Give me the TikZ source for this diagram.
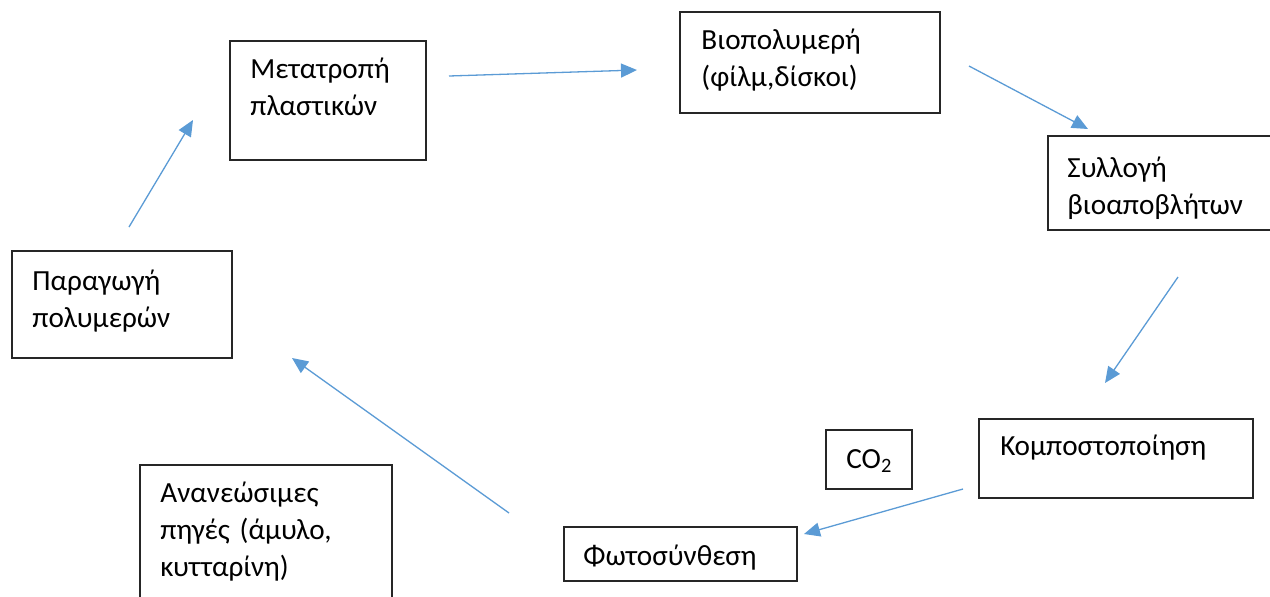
\documentclass[tikz,border=0pt]{standalone}
\usepackage{fontspec}
\setmainfont{Carlito}
\usetikzlibrary{arrows.meta,positioning}
\definecolor{flowblue}{HTML}{5B9BD5}

\begin{document}
\begin{tikzpicture}[x=0.5pt,y=-0.5pt, box/.style={rectangle,draw=black!85,line width=0.75pt,inner sep=0,anchor=north west}, txt/.style={anchor=base west,inner sep=0,text width=130pt,align=left,font=\fontsize{14.6}{18.5}\selectfont}, flow/.style={draw=flowblue,line width=0.65pt,-{Triangle[length=8pt,width=7pt]}}]
  \useasboundingbox (0,0) rectangle (1270,596);
  % boxes
  \node (metatropi) [box,minimum width=98pt,minimum height=59.5pt] at (229,40) {};
  \node (bio) [box,minimum width=130pt,minimum height=50.5pt] at (679,11) {};
  \node (syllogi) [box,minimum width=114pt,minimum height=47pt] at (1047,135) {};
  \node (paragogi) [box,minimum width=110pt,minimum height=53.5pt] at (11,250) {};
  \node (kompost) [box,minimum width=137pt,minimum height=39.5pt] at (978,418) {};
  \node (co2) [box,minimum width=43pt,minimum height=29.5pt] at (825,429) {};
  \node (ananeosimes) [box,minimum width=126pt,minimum height=70pt] at (139,464) {};
  \node (foto) [box,minimum width=116.5pt,minimum height=27pt] at (563,526) {};
  % texts
  \node (metatropi text) [txt] at (250,78) {Μετατροπή\\πλαστικών};
  \node (bio text) [txt] at (701,49) {Βιοπολυμερή\\(φίλμ,δίσκοι)};
  \node (syllogi text) [txt] at (1067,177) {Συλλογή\\βιοαποβλήτων};
  \node (paragogi text) [txt] at (32,290) {Παραγωγή\\πολυμερών};
  \node (kompost text) [txt] at (1000,455) {Κομποστοποίηση};
  \node (co2 text) [txt] at (846,468) {CO\textsubscript{2}};
  \node (ananeosimes text) [txt] at (160,502) {Ανανεώσιμες\\πηγές (άμυλο,\\κυτταρίνη)};
  \node (foto text) [txt] at (583,565) {Φωτοσύνθεση};
  % arrow ends
  \coordinate (a1 start) at (449,76);   \coordinate (a1 end) at (637,70);
  \coordinate (a2 start) at (969,66);   \coordinate (a2 end) at (1088,129);
  \coordinate (a3 start) at (1178,277); \coordinate (a3 end) at (1105,383);
  \coordinate (a4 start) at (963,489);  \coordinate (a4 end) at (804,534);
  \coordinate (a5 start) at (509,513);  \coordinate (a5 end) at (292,358);
  \coordinate (a6 start) at (129,227);  \coordinate (a6 end) at (193,120);
  \foreach \i in {1,...,6}
    \draw [flow] (a\i\space start) -- (a\i\space end);
\end{tikzpicture}
\end{document}
